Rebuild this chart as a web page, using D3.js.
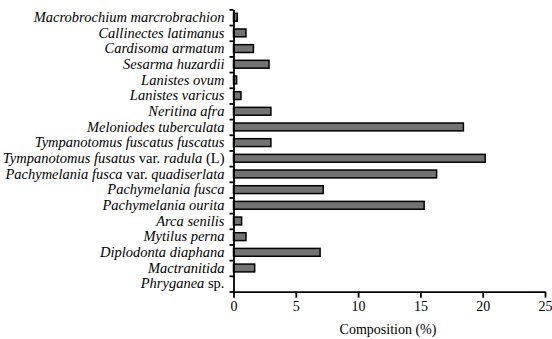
<!DOCTYPE html>
<html>
<head>
<meta charset="utf-8">
<script src="https://cdn.jsdelivr.net/npm/d3@7"></script>
<style>
  body { margin: 0; background: #fff; }
</style>
</head>
<body>
<div id="chart"></div>
<script>
// species names, top to bottom
const species = [
  "Macrobrochium marcrobrachion",
  "Callinectes latimanus",
  "Cardisoma armatum",
  "Sesarma huzardii",
  "Lanistes ovum",
  "Lanistes varicus",
  "Neritina afra",
  "Meloniodes tuberculata",
  "Tympanotomus fuscatus fuscatus",
  "Tympanotomus fusatus var. radula (L)",
  "Pachymelania fusca var. quadiserlata",
  "Pachymelania fusca",
  "Pachymelania ourita",
  "Arca senilis",
  "Mytilus perna",
  "Diplodonta diaphana",
  "Mactranitida",
  "Phryganea sp."
];

// composition (%)
const composition = [0.3, 1.0, 1.6, 2.85, 0.25, 0.6, 3.0, 18.45, 3.0, 20.2,
  16.3, 7.2, 15.3, 0.65, 1.0, 6.95, 1.7, 0];

const xTicks = [0, 5, 10, 15, 20, 25];

// words that stay upright in the labels
const plainWords = ["var.", "sp.", "(L)"];

const width = 552, height = 339;
const plotLeft = 233.5, plotRight = 545, plotTop = 9.4, plotBottom = 291.5;
const serifFamily = "'Times New Roman', 'Liberation Serif', serif";

const svg = d3.select("#chart")
  .append("svg")
  .attr("width", width)
  .attr("height", height);

const x = d3.scaleLinear()
  .domain([0, 25])
  .range([plotLeft, plotRight]);

const y = d3.scaleBand()
  .domain(species)
  .range([plotTop, plotBottom])
  .paddingInner(0.5)
  .paddingOuter(0.25);

// tick marks sit on the band edges
const yEdge = d3.scaleLinear()
  .domain([0, species.length])
  .range([plotTop, plotBottom]);

// Bars
svg.append("g")
  .selectAll("rect")
  .data(species)
  .join("rect")
  .attr("x", x(0))
  .attr("y", d => y(d))
  .attr("width", (d, i) => x(composition[i]) - x(0))
  .attr("height", y.bandwidth())
  .attr("fill", "#737373")
  .attr("stroke", "#000")
  .attr("stroke-width", 1.5)
  .attr("display", (d, i) => composition[i] > 0 ? null : "none");

// Y axis
const yAxis = svg.append("g")
  .attr("transform", `translate(${plotLeft},0)`)
  .call(d3.axisLeft(yEdge)
    .tickValues(d3.range(0, species.length + 1))
    .tickFormat("")
    .tickSize(4)
    .tickSizeOuter(0));
yAxis.selectAll("path, line").attr("stroke", "#000").attr("stroke-width", 1.8);

// species labels, italic except for plain words
species.forEach(d => {
  const t = svg.append("text")
    .attr("x", plotLeft - 9)
    .attr("y", y(d) + y.bandwidth() / 2)
    .attr("dy", "0.33em")
    .attr("text-anchor", "end")
    .style("font", `italic 14.5px ${serifFamily}`);
  d.split(" ").forEach((w, i) => {
    t.append("tspan")
      .style("font-style", plainWords.includes(w) ? "normal" : "italic")
      .text((i > 0 ? " " : "") + w);
  });
});

// X axis
const xAxis = svg.append("g")
  .attr("transform", `translate(0,${plotBottom + 0.2})`)
  .call(d3.axisBottom(x)
    .tickValues(xTicks)
    .tickSize(6)
    .tickSizeOuter(0));
xAxis.selectAll("path, line").attr("stroke", "#000").attr("stroke-width", 1.8);
xAxis.selectAll("text")
  .attr("fill", "#000")
  .style("font", `14px ${serifFamily}`);

svg.append("text")
  .attr("x", 388)
  .attr("y", 334)
  .attr("text-anchor", "middle")
  .style("font", `14px ${serifFamily}`)
  .text("Composition (%)");
</script>
</body>
</html>
